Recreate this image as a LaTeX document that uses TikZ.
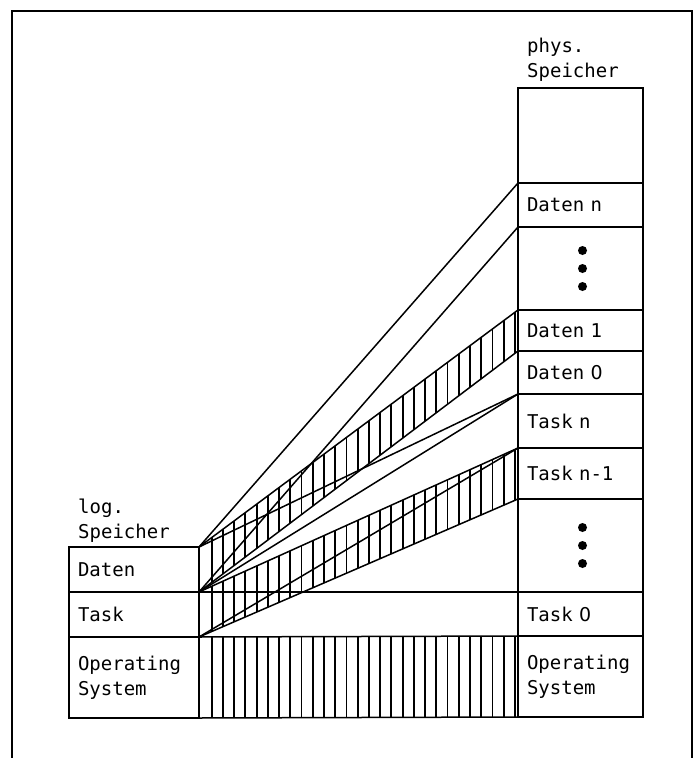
\documentclass[tikz,border=0pt]{standalone}
\usepackage{fontspec}
\newfontfamily\memfont{DejaVu Sans Mono}
\newfontfamily\zerofont{DejaVu Sans}
\usetikzlibrary{positioning}

\begin{document}
\begin{tikzpicture}[x=1pt,y=-1pt,
	every node/.style={font=\memfont\fontsize{19}{25}\selectfont},
	lcell/.style={draw,line width=2.2pt,text width=112pt,inner xsep=9pt,inner ysep=0pt,outer sep=0pt,align=left},
	rcell/.style={lcell,text width=107pt},
	lbl/.style={inner xsep=9pt,inner ysep=0pt,align=left},
	fan/.style={line width=1.5pt},
	hatch/.style={line width=1.8pt}]
	 \useasboundingbox (0,0) rectangle (697,758);
	 \draw[line width=1.5pt] (12,758) -- (12,11) -- (692,11) -- (692,758);

	 % logical memory
	 \node[lcell,minimum height=45pt,anchor=north west] (ldaten) at (69,547) {Daten};
	 \node[lcell,minimum height=45pt] (ltask) [below=0pt of ldaten] {Task};
	 \node[lcell,minimum height=81pt] (los) [below=0pt of ltask] {Operating\\System};
	 \node[lbl] (loglbl) [above right=4pt and 0pt of ldaten.north west] {log.\\Speicher};

	 % physical memory
	 \node[rcell,minimum height=95pt,anchor=north west] (rfree) at (518,88) {};
	 \node[rcell,minimum height=44pt] (rdn) [below=0pt of rfree] {Daten n};
	 \node[rcell,minimum height=83pt] (rdots1) [below=0pt of rdn] {};
	 \node[rcell,minimum height=41pt] (rd1) [below=0pt of rdots1] {Daten 1};
	 \node[rcell,minimum height=43pt] (rd0) [below=0pt of rd1] {Daten {\zerofont 0}};
	 \node[rcell,minimum height=54pt] (rtn) [below=0pt of rd0] {Task n};
	 \node[rcell,minimum height=51pt] (rtn1) [below=0pt of rtn] {Task n-1};
	 \node[rcell,minimum height=93pt] (rdots2) [below=0pt of rtn1] {};
	 \node[rcell,minimum height=44pt] (rt0) [below=0pt of rdots2] {Task {\zerofont 0}};
	 \node[rcell,minimum height=81pt] (ros) [below=0pt of rt0] {Operating\\System};
	 \node[lbl] (physlbl) [above right=6pt and 0pt of rfree.north west] {phys.\\Speicher};

	 \foreach \d in {rdots1,rdots2}
	 \foreach \dy in {-18,0,18}
	 \fill (\d.center) ++(2,\dy) circle (4.5);

	 % hatched bands
	 \begin{scope}
	 \clip (ldaten.north east) -- (rd1.north west) -- (rd1.south west) -- (ldaten.south east) -- cycle
	 (ltask.north east) -- (rtn1.north west) -- (rtn1.south west) -- (ltask.south east) -- cycle
	 (los.north east) rectangle (ros.south west);
	 \foreach \i in {0,...,27}
	 \draw[hatch] (211.7+11.23*\i,300) -- ++(0,430);
	 \end{scope}

	 \path[fan]
	 (ldaten.north east) edge (rdn.north west)
	 (ldaten.south east) edge (rdn.south west)
	 (ldaten.north east) edge (rd1.north west)
	 (ldaten.south east) edge (rd1.south west)
	 (ldaten.north east) edge (rd0.south west)
	 (ldaten.south east) edge (rd0.south west)

	 (ltask.north east) edge (rtn1.north west)
	 (ltask.south east) edge (rtn1.south west)
	 (ltask.south east) edge (rtn.south west)
	 (ltask.north east) edge (rt0.north west)
	 (los.north east) edge (ros.north west)
	 (los.south east) edge (ros.south west)
	 ;
\end{tikzpicture}
\end{document}
